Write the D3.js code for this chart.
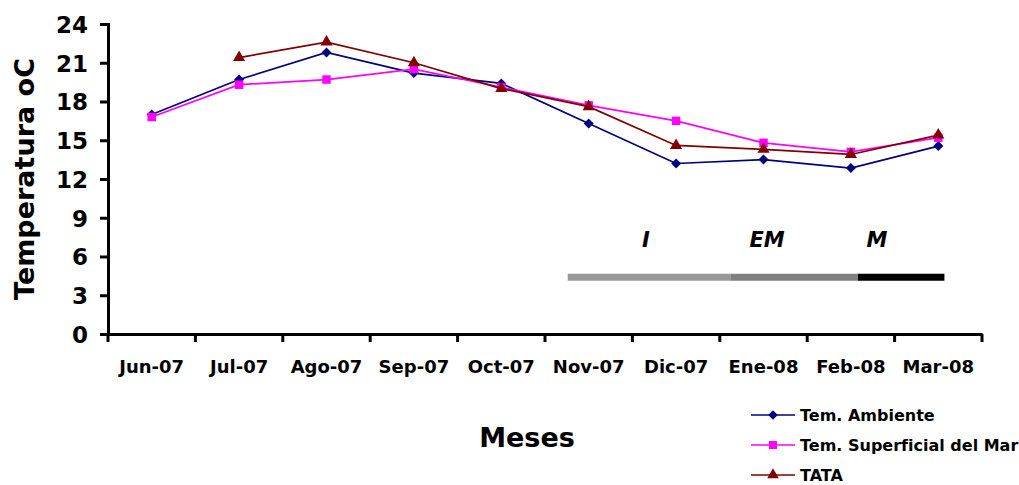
<!DOCTYPE html>
<html lang="es">
<meta charset="utf-8">
<style>
body { margin: 0; background: #fff; }
svg text { font-family: "DejaVu Sans", Verdana, sans-serif; font-weight: bold; fill: #000; }
</style>
<body>
<script src="https://d3js.org/d3.v7.min.js"></script>
<script>
var meses = ["Jun-07", "Jul-07", "Ago-07", "Sep-07", "Oct-07", "Nov-07", "Dic-07", "Ene-08", "Feb-08", "Mar-08"]
var ambiente = [17.0, 19.7, 21.8, 20.2, 19.4, 16.3, 13.2, 13.5, 12.85, 14.55]
var superficial = [16.8, 19.3, 19.7, 20.5, 19.1, 17.7, 16.5, 14.8, 14.1, 15.2]
var tata = [null, 21.4, 22.6, 21.0, 19.0, 17.6, 14.6, 14.3, 13.9, 15.4]
var yTicks = [0, 3, 6, 9, 12, 15, 18, 21, 24]
// periods drawn as bar under the lines (start/end in month index units)
var periodos = ["I", "EM", "M"]
var periodoInicio = [5.26, 7.12, 8.58]
var periodoFin = [7.12, 8.58, 9.57]
var periodoColor = ["#999999", "#808080", "#000000"]
var periodoNivel = 4.4

var width = 1019, height = 485
var svg = d3.select("body").append("svg")
  .attr("width", width)
  .attr("height", height)

var x = d3.scaleBand().domain(meses).range([108, 982]).padding(0)
var xi = d3.scaleLinear().domain([0, meses.length]).range([108, 982])
var y = d3.scaleLinear().domain([0, 24]).range([334, 24])

// y axis
var yAxis = svg.append("g")
  .attr("transform", "translate(108,0)")
  .call(d3.axisLeft(y).tickValues(yTicks).tickSize(8).tickPadding(12))
yAxis.select(".domain").attr("stroke", "#000").attr("stroke-width", 3)
yAxis.selectAll(".tick line").attr("stroke", "#000").attr("stroke-width", 3)
yAxis.selectAll("text").style("font-size", "23px").attr("dy", "0.36em")

// x axis
var xAxis = svg.append("g")
  .attr("transform", "translate(0,334)")
  .call(d3.axisBottom(x).tickSize(0).tickPadding(26))
xAxis.select(".domain").attr("stroke", "#000").attr("stroke-width", 3)
xAxis.selectAll("text").style("font-size", "18px")
// tick marks between categories
xAxis.selectAll(".sep")
  .data(d3.range(0, meses.length + 1))
  .enter().append("line")
  .attr("class", "sep")
  .attr("x1", function(d) { return xi(d) })
  .attr("x2", function(d) { return xi(d) })
  .attr("y1", 0).attr("y2", 8)
  .attr("stroke", "#000").attr("stroke-width", 3)

// titles
svg.append("text")
  .attr("transform", "translate(34,179) rotate(-90)")
  .attr("text-anchor", "middle")
  .style("font-size", "27px")
  .text("Temperatura oC")

svg.append("text")
  .attr("x", 527).attr("y", 447)
  .attr("text-anchor", "middle")
  .style("font-size", "27px")
  .text("Meses")

// period bar
var py = y(periodoNivel)
periodos.forEach(function(p, i) {
  svg.append("line")
    .attr("x1", xi(periodoInicio[i])).attr("x2", xi(periodoFin[i]))
    .attr("y1", py).attr("y2", py)
    .attr("stroke", periodoColor[i]).attr("stroke-width", 7)
})
var labelX = [646, 767, 877]
svg.selectAll(".periodo")
  .data(periodos)
  .enter().append("text")
  .attr("class", "periodo")
  .attr("x", function(d, i) { return labelX[i] })
  .attr("y", 247)
  .attr("text-anchor", "middle")
  .style("font-size", "21px")
  .style("font-style", "italic")
  .text(function(d) { return d })

// diamond = square turned 45 degrees
var series = [
  { name: "Tem. Ambiente", values: ambiente, color: "#000080", shape: d3.symbolSquare, size: 50, rot: 45 },
  { name: "Tem. Superficial del Mar", values: superficial, color: "#FF00FF", shape: d3.symbolSquare, size: 72, rot: 0 },
  { name: "TATA", values: tata, color: "#800000", shape: d3.symbolTriangle, size: 64, rot: 0 }
]

var cx = function(i) { return x(meses[i]) + x.bandwidth() / 2 }

var line = d3.line()
  .defined(function(d) { return d != null })
  .x(function(d, i) { return cx(i) })
  .y(function(d) { return y(d) })

series.forEach(function(s) {
  svg.append("path")
    .datum(s.values)
    .attr("fill", "none")
    .attr("stroke", s.color)
    .attr("stroke-width", 1.7)
    .attr("d", line)
  svg.append("g").selectAll("path")
    .data(s.values.map(function(v, i) { return { v: v, i: i } }).filter(function(d) { return d.v != null }))
    .enter().append("path")
    .attr("d", d3.symbol().type(s.shape).size(s.size))
    .attr("transform", function(d) { return "translate(" + cx(d.i) + "," + y(d.v) + ") rotate(" + s.rot + ")" })
    .attr("fill", s.color)
})

// legend
var legend = svg.append("g").attr("transform", "translate(751,415)")
series.forEach(function(s, i) {
  var g = legend.append("g").attr("transform", "translate(0," + (i * 30) + ")")
  g.append("line").attr("x1", 0).attr("x2", 44).attr("y1", 0).attr("y2", 0)
    .attr("stroke", s.color).attr("stroke-width", 1.6)
  g.append("path").attr("d", d3.symbol().type(s.shape).size(s.size * 0.9))
    .attr("transform", "translate(22,0) rotate(" + s.rot + ")").attr("fill", s.color)
  g.append("text").attr("x", 49).attr("y", 0).attr("dy", "0.36em")
    .style("font-size", "16px")
    .text(s.name)
})
</script>
</body>
</html>
